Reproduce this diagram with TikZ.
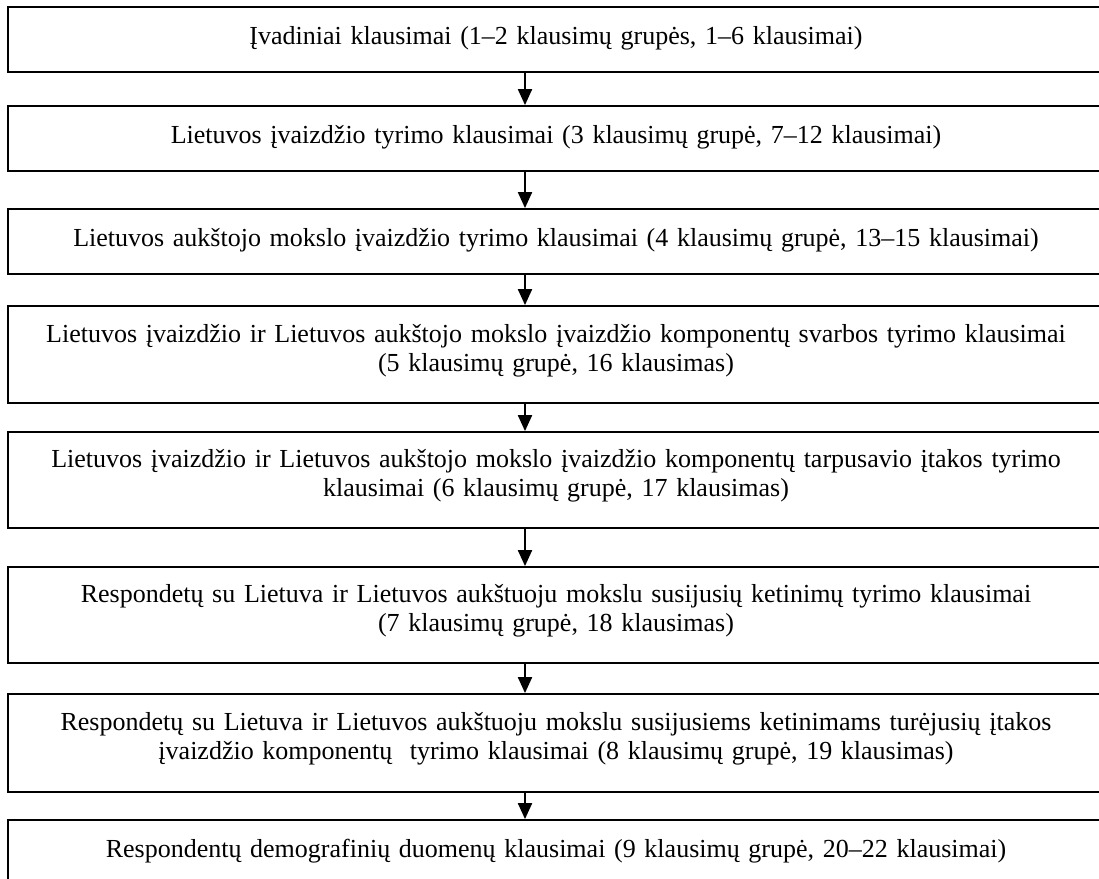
\documentclass[tikz,border=0pt]{standalone}
\usepackage{fontspec}
\setmainfont{Liberation Serif}
\usetikzlibrary{arrows.meta}
\newcommand{\qpad}[1]{\endgraf\vskip #1\hrule height 0pt}

\begin{document}
\begin{tikzpicture}
			[x=0.5pt,y=-0.5pt,
			qbox/.style={draw,line width=0.9pt,minimum width=548pt,text width=536pt,
				align=center,font=\fontsize{13}{14.5}\selectfont,
				execute at end node={\qpad{#1}}},
			qbox/.default=1pt,
			flow/.style={line width=1pt,-{Triangle[width=7pt,length=8pt]}}]
			\useasboundingbox (0,0) rectangle (1099,879);
			\clip (0,0) rectangle (1099,879);
			\node[qbox,minimum height=32.5pt] (q1) at (556,39.5)
				{Įvadiniai klausimai (1–2 klausimų grupės, 1–6 klausimai)};
			\node[qbox,minimum height=32.5pt] (q2) at (556,138.5)
				{Lietuvos įvaizdžio tyrimo klausimai (3 klausimų grupė, 7–12 klausimai)};
			\node[qbox,minimum height=32.5pt] (q3) at (556,241.5)
				{Lietuvos aukštojo mokslo įvaizdžio tyrimo klausimai (4 klausimų grupė, 13–15 klausimai)};
			\node[qbox=4pt,minimum height=48.5pt] (q4) at (556,354.5)
				{Lietuvos įvaizdžio ir Lietuvos aukštojo mokslo įvaizdžio komponentų svarbos tyrimo klausimai\\
				(5 klausimų grupė, 16 klausimas)};
			\node[qbox=4pt,minimum height=48pt] (q5) at (556,480)
				{Lietuvos įvaizdžio ir Lietuvos aukštojo mokslo įvaizdžio komponentų tarpusavio įtakos tyrimo\\
				klausimai (6 klausimų grupė, 17 klausimas)};
			\node[qbox=4pt,minimum height=48pt] (q6) at (556,615)
				{Respondetų su Lietuva ir Lietuvos aukštuoju mokslu susijusių ketinimų tyrimo klausimai\\
				(7 klausimų grupė, 18 klausimas)};
			\node[qbox=4pt,minimum height=49pt] (q7) at (556,743)
				{Respondetų su Lietuva ir Lietuvos aukštuoju mokslu susijusiems ketinimams turėjusių įtakos\\
				įvaizdžio komponentų\ \ tyrimo klausimai (8 klausimų grupė, 19 klausimas)};
			\node[qbox,minimum height=32.5pt] (q8) at (556,852.5)
				{Respondentų demografinių duomenų klausimai (9 klausimų grupė, 20–22 klausimai)};
			\coordinate (ax) at (525,0);
			\foreach \a/\b in {q1/q2,q2/q3,q3/q4,q4/q5,q5/q6,q6/q7,q7/q8}
				\draw[flow] (\a.south -| ax) -- (\b.north -| ax);
\end{tikzpicture}
\end{document}
